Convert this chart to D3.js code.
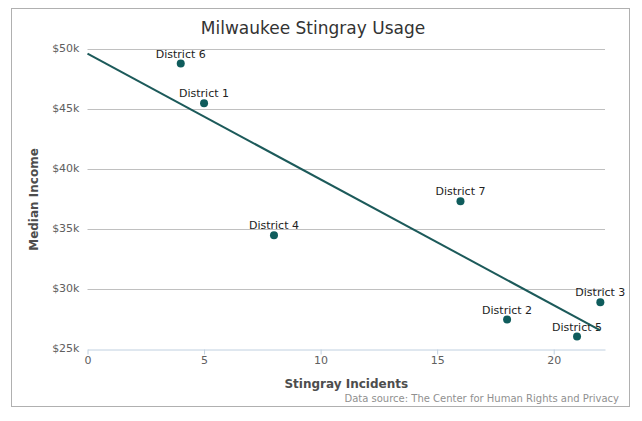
<!DOCTYPE html>
<html>
<head>
<meta charset="utf-8">
<script src="https://cdn.jsdelivr.net/npm/d3@7"></script>
<style>
  body { margin: 0; background: #fff; }
  svg text { font-family: "DejaVu Sans", "Open Sans", sans-serif; }
</style>
</head>
<body>
<script>
// data
var districts = ["District 6", "District 1", "District 4", "District 7", "District 3", "District 2", "District 5"];
var incidents = [4, 5, 8, 16, 22, 18, 21];
var income = [48830, 45530, 34530, 37360, 28940, 27500, 26080];
// trend line endpoints [incidents, income]
var trendX = [0, 22];
var trendY = [49650, 26600];
var yTicks = [25000, 30000, 35000, 40000, 45000, 50000];
var xTicks = [0, 5, 10, 15, 20];

var svgWidth = 642, svgHeight = 421;
var margin = { top: 49.5, right: 37, bottom: 71.5, left: 87.5 };
var width = svgWidth - margin.left - margin.right;
var height = svgHeight - margin.top - margin.bottom;

var teal = "#0f5c5c";

var svg = d3.select("body")
  .append("svg")
  .attr("width", svgWidth)
  .attr("height", svgHeight);

// outer frame
svg.append("rect")
  .attr("x", 11.5).attr("y", 8.5)
  .attr("width", 618).attr("height", 398)
  .attr("fill", "none")
  .attr("stroke", "#b0b0b0");

svg.append("text")
  .attr("x", 313).attr("y", 34)
  .attr("text-anchor", "middle")
  .attr("font-size", 17)
  .attr("fill", "#333")
  .text("Milwaukee Stingray Usage");

var chartGroup = svg.append("g")
  .attr("transform", `translate(${margin.left}, ${margin.top})`);

var data = districts.map(function(name, i) {
  return { name: name, x: incidents[i], y: income[i] };
});

var xScale = d3.scaleLinear().domain([0, 22.2]).range([0, width]);
var yScale = d3.scaleLinear().domain([25000, 50000]).range([height, 0]);

// gridlines
chartGroup.append("g")
  .selectAll("line")
  .data(yTicks.slice(1))
  .enter()
  .append("line")
  .attr("x1", 0).attr("x2", width)
  .attr("y1", d => yScale(d)).attr("y2", d => yScale(d))
  .attr("stroke", "#c0c0c0");

// y axis labels
var leftAxis = d3.axisLeft(yScale)
  .tickValues(yTicks)
  .tickSize(0)
  .tickPadding(8)
  .tickFormat(d => "$" + d / 1000 + "k");

var yAxisG = chartGroup.append("g").call(leftAxis);
yAxisG.select(".domain").remove();
yAxisG.selectAll("text")
  .attr("font-size", 11)
  .attr("fill", "#606060")
  .attr("dy", "0.2em");

// x axis
var bottomAxis = d3.axisBottom(xScale)
  .tickValues(xTicks)
  .tickSizeInner(5)
  .tickSizeOuter(0)
  .tickPadding(2);

var xAxisG = chartGroup.append("g")
  .attr("transform", `translate(0, ${height})`)
  .call(bottomAxis);
xAxisG.select(".domain").attr("stroke", "#c0d0e0");
xAxisG.selectAll(".tick line").attr("stroke", "#c0d0e0");
xAxisG.selectAll("text")
  .attr("font-size", 11)
  .attr("fill", "#606060");

// axis titles
svg.append("text")
  .attr("transform", `translate(38, ${margin.top + height / 2}) rotate(-90)`)
  .attr("text-anchor", "middle")
  .attr("font-size", 12)
  .attr("font-weight", "bold")
  .attr("fill", "#4d4d4d")
  .text("Median Income");

svg.append("text")
  .attr("x", margin.left + width / 2).attr("y", 388)
  .attr("text-anchor", "middle")
  .attr("font-size", 12)
  .attr("font-weight", "bold")
  .attr("fill", "#4d4d4d")
  .text("Stingray Incidents");

// point labels (under the line)
chartGroup.selectAll(".lbl")
  .data(data)
  .enter()
  .append("text")
  .attr("class", "lbl")
  .attr("x", d => xScale(d.x))
  .attr("y", d => yScale(d.y) - 6)
  .attr("text-anchor", "middle")
  .attr("font-size", 11)
  .attr("fill", "#222")
  .text(d => d.name);

// trend line
var line = d3.line()
  .x(d => xScale(d[0]))
  .y(d => yScale(d[1]));

chartGroup.append("path")
  .datum(trendX.map((x, i) => [x, trendY[i]]))
  .attr("d", line)
  .attr("fill", "none")
  .attr("stroke", "#1c5a5a")
  .attr("stroke-width", 2);

// points
chartGroup.selectAll("circle")
  .data(data)
  .enter()
  .append("circle")
  .attr("cx", d => xScale(d.x))
  .attr("cy", d => yScale(d.y))
  .attr("r", 4)
  .attr("fill", teal);

// credits
svg.append("text")
  .attr("x", 619).attr("y", 402)
  .attr("text-anchor", "end")
  .attr("font-size", 10)
  .attr("fill", "#909090")
  .text("Data source: The Center for Human Rights and Privacy");
</script>
</body>
</html>
